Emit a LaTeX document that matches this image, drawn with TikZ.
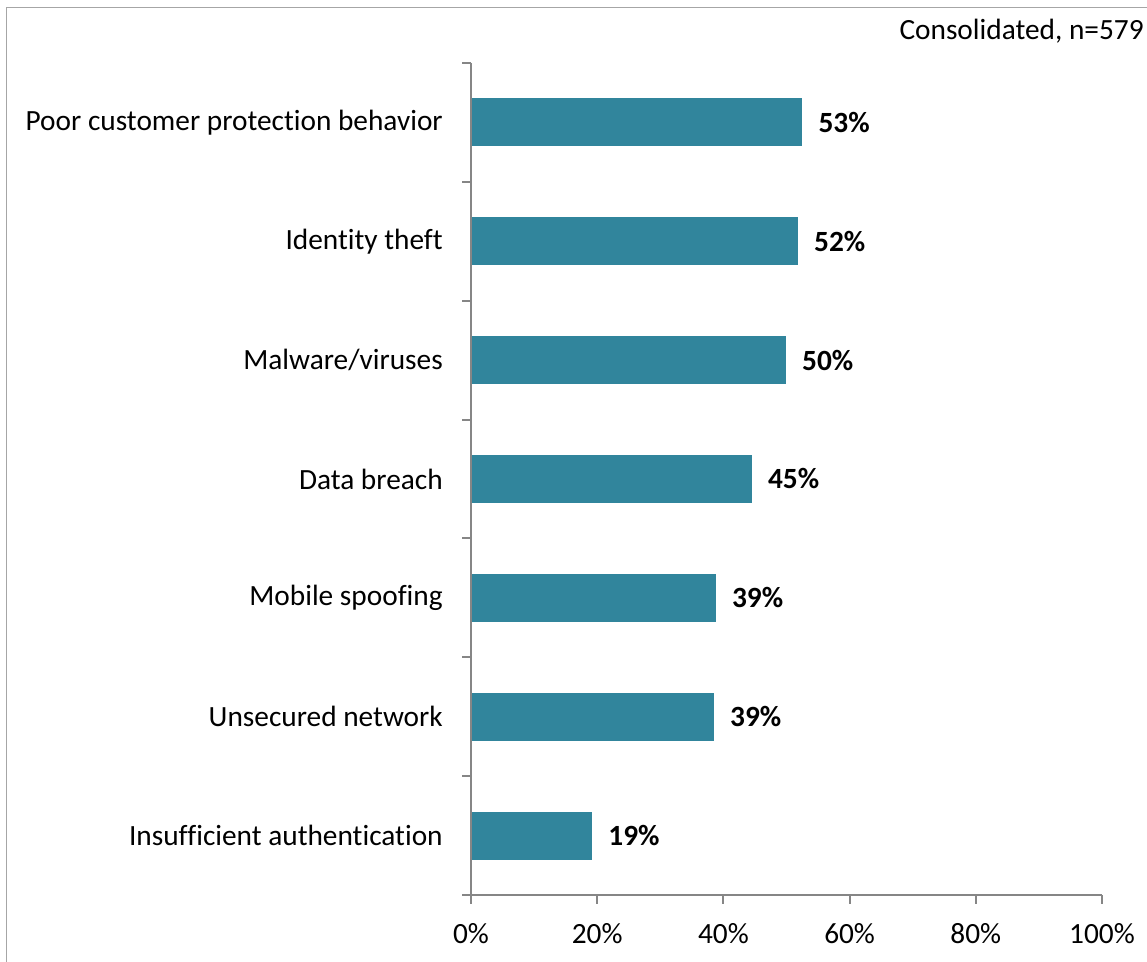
\documentclass[tikz,border=0pt]{standalone}
\usepackage{fontspec}
\setmainfont{Carlito}[Ligatures=NoCommon]
\usetikzlibrary{positioning}
\definecolor{barteal}{HTML}{31859C}
\definecolor{axisgray}{HTML}{868686}
\definecolor{framegray}{HTML}{A6A6A6}
\newcommand{\chartfont}{\fontsize{22}{26}\selectfont}
\tikzset{
	bar/.style={fill=barteal, draw=none},
	axisline/.style={draw=axisgray, line width=1.5pt},
	catlabel/.style={anchor=east, inner sep=0pt, font=\chartfont},
	vallabel/.style={inner sep=0pt, font=\chartfont\bfseries},
	ticklabel/.style={inner sep=0pt, font=\chartfont},
}

\begin{document}
\begin{tikzpicture}[x=0.75pt, y=-0.75pt]
	\useasboundingbox (0,0) rectangle (1147,962);
	\draw[framegray, line width=1.1pt] (6.5,962) -- (6.5,7.5) -- (1147,7.5);
	\node[anchor=east, inner sep=0pt, font=\chartfont] (cons) at (1144,31) {Consolidated, n=579};
	% bars
	\foreach \lab/\val/\txt [count=\i] in {Poor customer protection behavior/52.5/53,
		Identity theft/51.8/52, Malware\slash viruses/49.9/50, Data breach/44.5/45,
		Mobile spoofing/38.8/39, Unsecured network/38.5/39,
		Insufficient authentication/19.2/19}{
		\pgfmathsetmacro{\yc}{63+(\i-0.5)*118.86}
		\pgfmathsetmacro{\xe}{471+\val*6.31}
		\fill[bar] (471,\yc-24) rectangle (\xe,\yc+24);
		\coordinate (e\i) at (\xe,\yc);
		\node[vallabel, right=12pt of e\i] (val\i) {\txt\%};
		\node[catlabel] (cat\i) at (443,\yc) {\lab};
	}
	% axes
	\draw[axisline] (471,63) -- (471,904);
	\draw[axisline] (462,895) -- (1102,895);
	\foreach \k in {0,...,7}
		\draw[axisline] (462,63+\k*118.86) -- (471,63+\k*118.86);
	\foreach \k in {0,...,5}{
		\draw[axisline] (471+\k*126.2,895) -- (471+\k*126.2,904);
		\pgfmathtruncatemacro{\pc}{\k*20}
		\node[ticklabel] (t\k) at (471+\k*126.2,934) {\pc\%};
	}
\end{tikzpicture}
\end{document}
